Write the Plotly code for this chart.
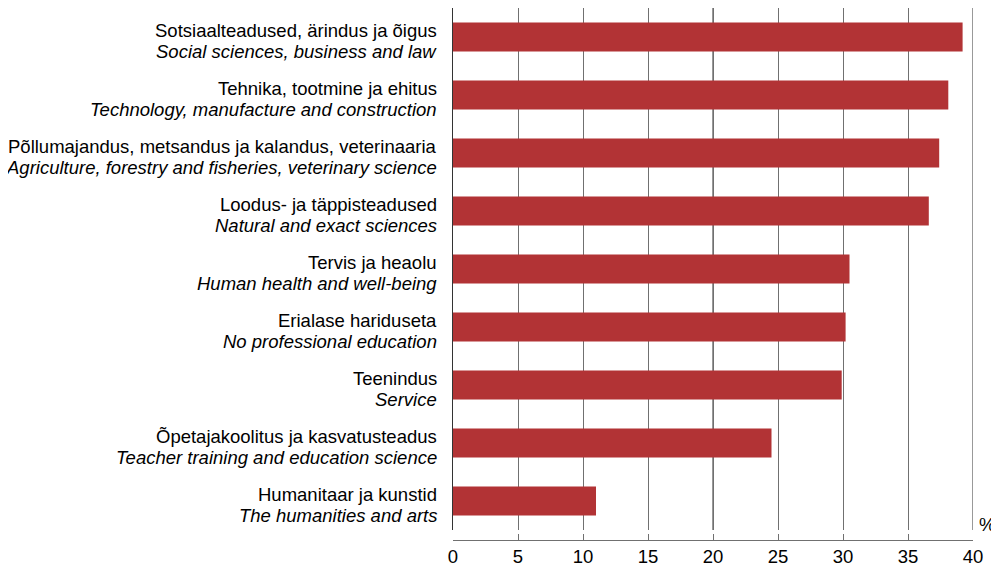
import plotly.graph_objects as go

# Erialad (eesti / inglise) ja väärtused, %
labels_et = [
    "Sotsiaalteadused, ärindus ja õigus",
    "Tehnika, tootmine ja ehitus",
    "Põllumajandus, metsandus ja kalandus, veterinaaria",
    "Loodus- ja täppisteadused",
    "Tervis ja heaolu",
    "Erialase hariduseta",
    "Teenindus",
    "Õpetajakoolitus ja kasvatusteadus",
    "Humanitaar ja kunstid",
]
labels_en = [
    "Social sciences, business and law",
    "Technology, manufacture and construction",
    "Agriculture, forestry and fisheries, veterinary science",
    "Natural and exact sciences",
    "Human health and well-being",
    "No professional education",
    "Service",
    "Teacher training and education science",
    "The humanities and arts",
]
values = [39.2, 38.1, 37.4, 36.6, 30.5, 30.2, 29.9, 24.5, 11.0]
x_ticks = [0, 5, 10, 15, 20, 25, 30, 35, 40]

cats = list(range(len(values)))
FONT = "Liberation Sans, Arial, sans-serif"

fig = go.Figure(go.Bar(
    x=values,
    y=cats,
    orientation="h",
    width=0.5,
    marker=dict(color="#B23335", line=dict(width=0)),
))

# kahe reaga sildid: eesti keeles tavaline, inglise keeles kaldkiri
annotations = []
for c, et, en in zip(cats, labels_et, labels_en):
    annotations.append(dict(text=et, xref="paper", yref="y", x=0, y=c,
                            xanchor="right", yanchor="middle", xshift=-14, yshift=7,
                            showarrow=False))
    annotations.append(dict(text=f"<i>{en}</i>", xref="paper", yref="y", x=0, y=c,
                            xanchor="right", yanchor="middle", xshift=-14, yshift=-14,
                            showarrow=False))
annotations.append(dict(text="%", xref="paper", yref="paper", x=1.0, y=0.005,
                        xanchor="left", yanchor="bottom", xshift=4, showarrow=False))

# lehe body margin on 8 px, seega joonis 991x558
fig.update_layout(
    width=991, height=558,
    margin=dict(l=445, r=26, t=0, b=26),
    plot_bgcolor="white",
    paper_bgcolor="white",
    font=dict(family=FONT, size=18.5, color="#000000"),
    showlegend=False,
    xaxis=dict(
        range=[0, 40],
        tickvals=x_ticks,
        showgrid=True, gridcolor="#707070", gridwidth=1,
        zeroline=False,
        showline=True, linecolor="#707070", linewidth=1,
        ticks="inside", ticklen=6, tickcolor="#707070",
        anchor="free", position=0,
        fixedrange=True,
    ),
    yaxis=dict(
        domain=[0.0188, 1],
        range=[len(values) - 0.5, -0.5],
        showticklabels=False,
        showgrid=False, zeroline=False,
        showline=True, linecolor="#333333", linewidth=1,
        ticks="",
    ),
    shapes=[
        dict(type="line", xref="x", yref="y domain", x0=v, x1=v, y0=0, y1=1,
             line=dict(color="#333333", width=1), layer="below")
        for v in (20, 40)
    ],
    annotations=annotations,
)

fig.write_html("out.html")
